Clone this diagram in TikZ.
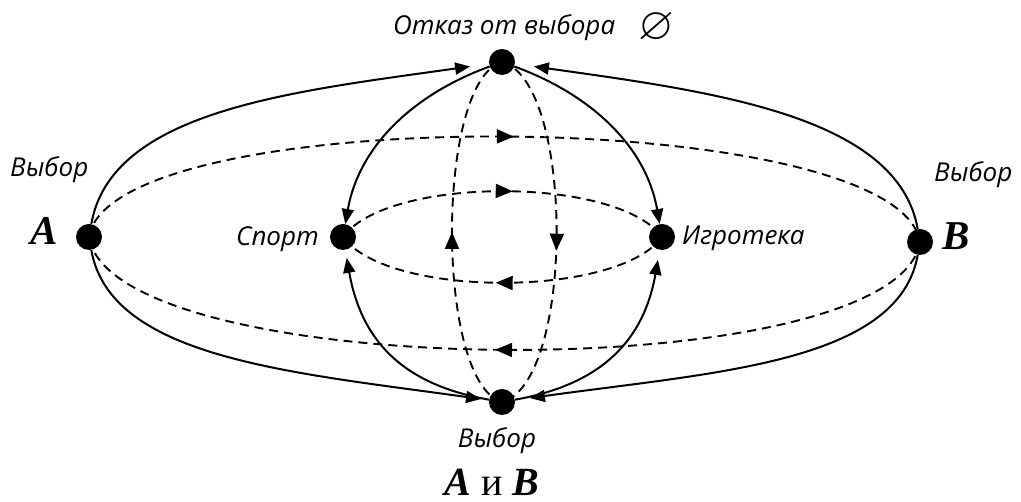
\documentclass[tikz,border=0pt]{standalone}
\usepackage{fontspec}
\usepackage{amssymb}
\setmainfont{Liberation Serif}
\newfontfamily\labfont{Open Sans}
\usetikzlibrary{arrows.meta,decorations.markings,backgrounds}
\tikzset{
  dot/.style={circle,fill=black,inner sep=0pt,minimum size=26pt},
  lab/.style={font=\labfont\itshape\fontsize{26}{26}\selectfont,inner sep=0pt},
  letter/.style={font=\bfseries\itshape\fontsize{41}{41}\selectfont,inner sep=0pt},
  solidarr/.style={line width=2pt,-{Triangle[length=15pt,width=12pt]}},
  dashln/.style={line width=1.9pt,dash pattern=on 9pt off 6pt},
  midarrow/.style={postaction={decorate,decoration={markings,mark=at position #1 with {\arrow[solid]{Triangle[length=17pt,width=14pt]}}}}}
}
\begin{document}
\begin{tikzpicture}[x=1pt,y=1pt]
\useasboundingbox (0,0) rectangle (1021,502);
% dots
\node[dot] (T) at (502,440) {};
\node[dot] (Bo) at (502,100) {};
\node[dot] (A) at (89,265) {};
\node[dot] (B) at (920,260) {};
\node[dot] (S) at (343,265) {};
\node[dot] (I) at (662,265) {};
% labels
\node[lab,anchor=base west] (lT) at (393,467) {Отказ от выбора};
\node[inner sep=0pt,text depth=0pt,font=\fontsize{46}{46}\selectfont] (lE) at (656,476) {$\varnothing$};
\node[lab,anchor=base west] (lA) at (10,325) {Выбор};
\node[lab,anchor=base west] (lB) at (934,320) {Выбор};
\node[letter,anchor=base west] (tA) at (30,257) {A};
\node[letter,anchor=base west] (tB) at (942,252) {B};
\node[lab,anchor=base east] (lS) at (319,256) {Спорт};
\node[lab,anchor=base west] (lI) at (682,257) {Игротека};
\node[lab,anchor=base] (lBo) at (497,54) {Выбор};
\node[anchor=base,inner sep=0pt,text depth=0pt,font=\fontsize{40}{40}\selectfont] (lAB) at (492,6) {\textbf{\textit{A}} и \textbf{\textit{B}}};
\begin{scope}[on background layer]
% outer dashed ellipse
\draw[dashln,midarrow=0.51] (A.center) to[out=81,in=99,distance=139] (B.center);
\draw[dashln,midarrow=0.51] (B.center) to[out=261,in=279,distance=149] (A.center);
% inner dashed ellipse
\draw[dashln,midarrow=0.53] (S.center) to[out=54,in=126,distance=75.5] (I.center);
\draw[dashln,midarrow=0.52] (I.center) to[out=234,in=306,distance=75.5] (S.center);
% vertical dashed ellipse
\draw[dashln,midarrow=0.5] (Bo.center) to[out=164,in=196,distance=69.4] (T.center);
\draw[dashln,midarrow=0.55] (T.center) to[out=345,in=15,distance=75.4] (Bo.center);
\end{scope}
% solid arrows
\draw[solidarr,shorten >=19pt] (A) to[out=80,in=188,out distance=115,in distance=200] (T);
\draw[solidarr,shorten >=19pt] (B) to[out=100,in=352,out distance=115,in distance=200] (T);
\draw[solidarr,shorten >=8pt] (A) to[out=280,in=172,out distance=110,in distance=200] (Bo);
\draw[solidarr,shorten >=15pt] (B) to[out=260,in=8,out distance=110,in distance=200] (Bo);
\draw[solidarr] (T) to[out=200,in=80,distance=80] (S);
\draw[solidarr] (T) to[out=340,in=100,distance=80] (I);
\draw[solidarr,shorten >=8pt] (Bo) to[out=170,in=280,distance=90] (S);
\draw[solidarr,shorten >=10pt] (Bo) to[out=10,in=260,distance=90] (I);
\end{tikzpicture}
\end{document}
